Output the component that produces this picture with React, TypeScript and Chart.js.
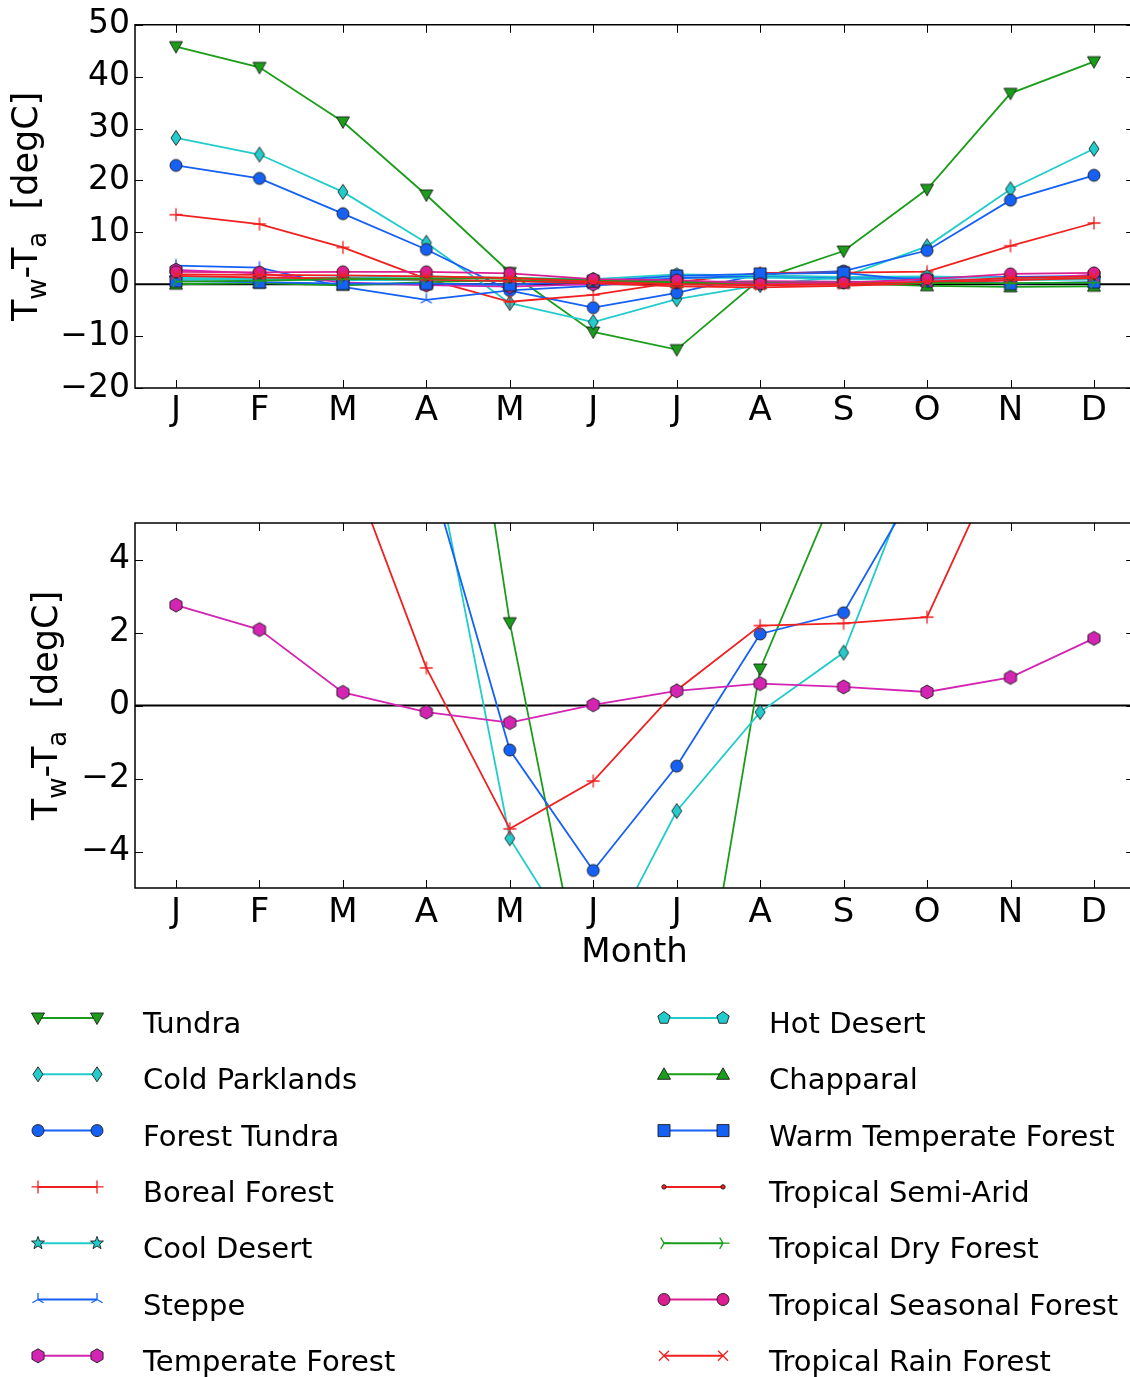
import React, { useEffect, useRef } from 'react';
import { Chart, registerables } from 'chart.js';

Chart.register(...registerables);

const MONTHS = ['J', 'F', 'M', 'A', 'M', 'J', 'J', 'A', 'S', 'O', 'N', 'D'];

const SERIES_NAMES = [
  'Tundra', 'Cold Parklands', 'Forest Tundra', 'Boreal Forest', 'Cool Desert', 'Steppe', 'Temperate Forest',
  'Hot Desert', 'Chapparal', 'Warm Temperate Forest', 'Tropical Semi-Arid', 'Tropical Dry Forest',
  'Tropical Seasonal Forest', 'Tropical Rain Forest',
];

const TUNDRA = [45.8, 41.8, 31.3, 17.2, 2.27, -9.2, -12.6, 1.0, 6.4, 18.3, 36.8, 42.9];
const COLD_PARKLANDS = [28.2, 25.0, 17.8, 8.0, -3.64, -7.3, -2.89, -0.18, 1.45, 7.3, 18.3, 26.1];
const FOREST_TUNDRA = [22.9, 20.4, 13.6, 6.7, -1.22, -4.52, -1.66, 1.96, 2.54, 6.5, 16.2, 21.0];
const BOREAL_FOREST = [13.4, 11.6, 7.1, 1.03, -3.38, -2.07, 0.42, 2.19, 2.25, 2.42, 7.4, 11.8];
const COOL_DESERT = [1.0, 0.9, 0.8, 0.8, 0.6, 0.5, 1.2, 1.3, 1.0, 0.9, 0.8, 0.9];
const STEPPE = [3.6, 3.2, -0.5, -3.0, -1.2, -0.3, 1.2, 1.6, 1.3, 1.2, 1.4, 1.6];
const TEMPERATE_FOREST = [2.75, 2.08, 0.36, -0.18, -0.47, 0.02, 0.4, 0.6, 0.51, 0.37, 0.77, 1.84];
const HOT_DESERT = [1.2, 1.1, 1.3, 1.5, 1.2, 1.0, 1.9, 1.7, 1.4, 1.5, 1.2, 1.2];
const CHAPPARAL = [0.0, 0.2, -0.2, 0.4, 0.8, 0.5, 0.3, 0.1, 0.2, -0.3, -0.5, -0.4];
const WARM_TEMPERATE_FOREST = [0.6, 0.4, 0.1, 0.1, -0.1, 0.6, 1.6, 2.0, 2.2, 0.6, 0.1, 0.4];
const TROPICAL_SEMI_ARID = [1.6, 1.3, 1.1, 0.9, 0.6, 0.2, -0.4, -0.6, -0.3, 0.2, 0.8, 1.2];
const TROPICAL_DRY_FOREST = [0.5, 0.7, 1.0, 1.1, 1.2, 0.8, 0.5, 0.3, 0.3, 0.2, 0.2, 0.3];
const TROPICAL_SEASONAL_FOREST = [2.4, 2.3, 2.4, 2.4, 2.1, 1.0, 0.8, 0.1, 0.3, 1.0, 2.0, 2.2];
const TROPICAL_RAIN_FOREST = [1.9, 1.8, 1.7, 1.5, 1.2, 0.5, 0.0, -0.2, 0.0, 0.5, 1.2, 1.5];

const SERIES_VALUES = [
  TUNDRA, COLD_PARKLANDS, FOREST_TUNDRA, BOREAL_FOREST, COOL_DESERT, STEPPE, TEMPERATE_FOREST,
  HOT_DESERT, CHAPPARAL, WARM_TEMPERATE_FOREST, TROPICAL_SEMI_ARID, TROPICAL_DRY_FOREST,
  TROPICAL_SEASONAL_FOREST, TROPICAL_RAIN_FOREST,
];

const SERIES_COLORS = [
  '#1a9e1a', '#22cccc', '#1560f5', '#f02020', '#22cccc', '#1560f5', '#d424b4',
  '#22cccc', '#1a9e1a', '#1560f5', '#f02020', '#1a9e1a', '#dc1e90', '#f02020',
];

const SERIES_MARKERS = ['v', 'd', 'o', '+', '*', '2', 'h', 'p', '^', 's', '.', '4', 'o', 'x'];

// indices of series shown in the zoomed (lower) panel
const ZOOM_SERIES = [0, 1, 2, 3, 6];

const TOP_Y_TICKS = [-20, -10, 0, 10, 20, 30, 40, 50];
const BOTTOM_Y_TICKS = [-4, -2, 0, 2, 4];

const FONT = '"DejaVu Sans", "Liberation Sans", sans-serif';

// pixel placement of month 0 and spacing between months
const X0_PX = 176;
const X_STEP_PX = 83.45;
const CANVAS_W = 1142;

function drawMarker(ctx: CanvasRenderingContext2D, kind: string, x: number, y: number, color: string) {
  ctx.save();
  ctx.translate(x, y);
  const edge = '#1c1c1c';
  const poly = (pts: number[][]) => {
    ctx.beginPath();
    pts.forEach(([px, py], i) => (i ? ctx.lineTo(px, py) : ctx.moveTo(px, py)));
    ctx.closePath();
    ctx.fillStyle = color;
    ctx.fill();
    ctx.lineWidth = 0.9;
    ctx.strokeStyle = edge;
    ctx.stroke();
  };
  const reg = (n: number, r: number) =>
    Array.from({ length: n }, (_, i) => {
      const a = (i * 2 * Math.PI) / n;
      return [r * Math.sin(a), -r * Math.cos(a)];
    });
  const circle = (r: number) => {
    ctx.beginPath();
    ctx.arc(0, 0, r, 0, Math.PI * 2);
    ctx.fillStyle = color;
    ctx.fill();
    ctx.lineWidth = 0.9;
    ctx.strokeStyle = edge;
    ctx.stroke();
  };
  const segs = (s: number[][]) => {
    ctx.beginPath();
    s.forEach(([x1, y1, x2, y2]) => {
      ctx.moveTo(x1, y1);
      ctx.lineTo(x2, y2);
    });
    ctx.lineWidth = 1.3;
    ctx.strokeStyle = color;
    ctx.stroke();
  };
  switch (kind) {
    case 'v':
      poly([[-6.5, -5], [6.5, -5], [0, 6.5]]);
      break;
    case '^':
      poly([[-6.5, 5], [6.5, 5], [0, -6.5]]);
      break;
    case 'd':
      poly([[0, -7.5], [5, 0], [0, 7.5], [-5, 0]]);
      break;
    case 'o':
      circle(6);
      break;
    case '.':
      circle(2.2);
      break;
    case 's':
      poly([[-6, -6], [6, -6], [6, 6], [-6, 6]]);
      break;
    case 'h':
      poly(reg(6, 7));
      break;
    case 'p':
      poly(reg(5, 6.5));
      break;
    case '*': {
      const pts: number[][] = [];
      for (let i = 0; i < 10; i++) {
        const a = (i * Math.PI) / 5;
        const r = i % 2 === 0 ? 6.8 : 2.8;
        pts.push([r * Math.sin(a), -r * Math.cos(a)]);
      }
      poly(pts);
      break;
    }
    case '+':
      segs([[-6.5, 0, 6.5, 0], [0, -6.5, 0, 6.5]]);
      break;
    case 'x':
      segs([[-5, -5, 5, 5], [-5, 5, 5, -5]]);
      break;
    case '2':
      segs([[0, 0, 0, -6.5], [0, 0, -5.6, 3.3], [0, 0, 5.6, 3.3]]);
      break;
    case '4':
      segs([[0, 0, 6.5, 0], [0, 0, -3.3, -5.6], [0, 0, -3.3, 5.6]]);
      break;
  }
  ctx.restore();
}

function makeMarkerCanvas(kind: string, color: string) {
  const c = document.createElement('canvas');
  c.width = 20;
  c.height = 20;
  const ctx = c.getContext('2d')!;
  drawMarker(ctx, kind, 10, 10, color);
  return c;
}

const minus = (v: number) => (v < 0 ? '\u2212' + Math.abs(v) : String(v));

const framePlugin = {
  id: 'frame',
  afterDatasetsDraw(chart: any) {
    const { ctx, chartArea: a, scales } = chart;
    ctx.save();
    ctx.strokeStyle = '#000';
    ctx.lineWidth = 1.5;
    ctx.beginPath();
    ctx.rect(a.left, a.top, a.right - a.left, a.bottom - a.top);
    ctx.stroke();
    ctx.lineWidth = 1;
    ctx.beginPath();
    const tl = 8;
    scales.x.ticks.forEach((t: any) => {
      const px = Math.round(scales.x.getPixelForValue(t.value)) + 0.5;
      ctx.moveTo(px, a.bottom);
      ctx.lineTo(px, a.bottom - tl);
      ctx.moveTo(px, a.top);
      ctx.lineTo(px, a.top + tl);
    });
    scales.y.ticks.forEach((t: any) => {
      const py = Math.round(scales.y.getPixelForValue(t.value)) + 0.5;
      ctx.moveTo(a.left, py);
      ctx.lineTo(a.left + tl, py);
      ctx.moveTo(a.right, py);
      ctx.lineTo(a.right - tl, py);
    });
    ctx.stroke();
    ctx.restore();
  },
};

const yTitlePlugin = {
  id: 'ytitle',
  afterDraw(chart: any, _args: any, opts: any) {
    const { ctx, chartArea: a } = chart;
    const big = `35px ${FONT}`;
    const small = `26px ${FONT}`;
    const parts: [string, string, number][] = [
      ['T', big, 0],
      ['w', small, 9],
      ['-T', big, 0],
      ['a', small, 9],
      ['  [degC]', big, 0],
    ];
    ctx.save();
    let total = 0;
    const widths = parts.map(([t, f]) => {
      ctx.font = f;
      const w = ctx.measureText(t).width;
      total += w;
      return w;
    });
    ctx.translate(opts.x, (a.top + a.bottom) / 2);
    ctx.rotate(-Math.PI / 2);
    ctx.fillStyle = '#000';
    ctx.textBaseline = 'alphabetic';
    ctx.textAlign = 'left';
    let cur = -total / 2;
    parts.forEach(([t, f, dy], i) => {
      ctx.font = f;
      ctx.fillText(t, cur, dy);
      cur += widths[i];
    });
    ctx.restore();
  },
};

function buildConfig(
  seriesIdx: number[],
  markers: HTMLCanvasElement[],
  yMin: number,
  yMax: number,
  yTicks: number[],
  padTop: number,
  xHeight: number,
  titleX: number,
  showMonth: boolean,
  tickPad: number
): any {
  const datasets: any[] = seriesIdx.map((i) => ({
    label: SERIES_NAMES[i],
    data: SERIES_VALUES[i].map((v, k) => ({ x: k, y: v })),
    borderColor: SERIES_COLORS[i],
    backgroundColor: SERIES_COLORS[i],
    borderWidth: 1.8,
    pointStyle: markers[i],
    pointRadius: 6,
    tension: 0,
    order: 100 - i,
  }));
  datasets.push({
    label: 'zero',
    data: [{ x: -1, y: 0 }, { x: 12, y: 0 }],
    borderColor: '#000',
    borderWidth: 2,
    pointRadius: 0,
    order: 200,
  });
  return {
    type: 'line',
    data: { datasets },
    options: {
      animation: false,
      responsive: false,
      devicePixelRatio: 1,
      layout: { padding: { top: padTop, left: 0, right: 0, bottom: 0 } },
      plugins: {
        legend: { display: false },
        tooltip: { enabled: false },
        ytitle: { x: titleX },
      },
      scales: {
        x: {
          type: 'linear',
          min: -0.49,
          max: 11.5,
          grid: { display: false, drawTicks: false },
          border: { display: false },
          afterBuildTicks: (s: any) => {
            s.ticks = MONTHS.map((_, k) => ({ value: k }));
          },
          afterFit: (s: any) => {
            s.height = xHeight;
            s.paddingLeft = 0;
            s.paddingRight = 0;
          },
          ticks: {
            autoSkip: false,
            maxRotation: 0,
            padding: tickPad,
            color: '#000',
            font: { family: FONT, size: 34 },
            callback: (v: number) => MONTHS[Math.round(v)] ?? '',
          },
          title: {
            display: showMonth,
            text: 'Month',
            color: '#000',
            font: { family: FONT, size: 34 },
            padding: { top: 0, bottom: 26 },
          },
        },
        y: {
          type: 'linear',
          min: yMin,
          max: yMax,
          grid: { display: false, drawTicks: false },
          border: { display: false },
          afterBuildTicks: (s: any) => {
            s.ticks = yTicks.map((v) => ({ value: v }));
          },
          afterFit: (s: any) => {
            s.width = 135;
          },
          ticks: {
            padding: 5,
            color: '#000',
            font: { family: FONT, size: 33 },
            callback: (v: number) => minus(v),
          },
        },
      },
    },
    plugins: [framePlugin, yTitlePlugin],
  };
}

// align month positions with the reference placement using the real chart area
function alignX(chart: any) {
  const a = chart.chartArea;
  chart.options.scales.x.min = (a.left - X0_PX) / X_STEP_PX;
  chart.options.scales.x.max = (a.right - X0_PX) / X_STEP_PX;
  chart.update();
}

function LegendCanvas() {
  const ref = useRef<HTMLCanvasElement>(null);
  useEffect(() => {
    const c = ref.current!;
    const ctx = c.getContext('2d')!;
    ctx.clearRect(0, 0, c.width, c.height);
    SERIES_NAMES.forEach((_, i) => {
      const col = i < 7 ? 0 : 1;
      const row = i % 7;
      const y = 28 + row * 56.3;
      const x1 = col === 0 ? 38 : 664;
      const x2 = x1 + 59;
      ctx.beginPath();
      ctx.moveTo(x1, y);
      ctx.lineTo(x2, y);
      ctx.strokeStyle = SERIES_COLORS[i];
      ctx.lineWidth = 2;
      ctx.stroke();
      drawMarker(ctx, SERIES_MARKERS[i], x1, y, SERIES_COLORS[i]);
      drawMarker(ctx, SERIES_MARKERS[i], x2, y, SERIES_COLORS[i]);
    });
  }, []);
  return (
    <canvas
      ref={ref}
      width={1130}
      height={387}
      style={{ position: 'absolute', left: 0, top: 990, width: 1130, height: 387 }}
    />
  );
}

export default function App() {
  const topRef = useRef<HTMLCanvasElement>(null);
  const botRef = useRef<HTMLCanvasElement>(null);

  useEffect(() => {
    const markers = SERIES_NAMES.map((_, i) => makeMarkerCanvas(SERIES_MARKERS[i], SERIES_COLORS[i]));
    const allIdx = SERIES_NAMES.map((_, i) => i);
    const top = new Chart(
      topRef.current!,
      buildConfig(allIdx, markers, -20, 50, TOP_Y_TICKS, 21, 450 - 388, 37, false, 3)
    );
    const bot = new Chart(
      botRef.current!,
      buildConfig(ZOOM_SERIES, markers, -5, 5, BOTTOM_Y_TICKS, 43, 520 - 408, 57, true, 5)
    );
    alignX(top);
    alignX(bot);
    return () => {
      top.destroy();
      bot.destroy();
    };
  }, []);

  return (
    <div
      style={{
        position: 'absolute',
        left: 0,
        top: 0,
        width: 1130,
        height: 1377,
        overflow: 'hidden',
        background: '#fff',
        fontFamily: FONT,
      }}
    >
      <canvas
        ref={topRef}
        width={CANVAS_W}
        height={450}
        style={{ position: 'absolute', left: 0, top: 0, width: CANVAS_W, height: 450 }}
      />
      <canvas
        ref={botRef}
        width={CANVAS_W}
        height={520}
        style={{ position: 'absolute', left: 0, top: 480, width: CANVAS_W, height: 520 }}
      />
      <LegendCanvas />
      {SERIES_NAMES.map((name, i) => {
        const col = i < 7 ? 0 : 1;
        const row = i % 7;
        const y = 1018 + row * 56.3;
        return (
          <span
            key={name}
            style={{
              position: 'absolute',
              left: col === 0 ? 143 : 769,
              top: y - 9,
              fontSize: 29,
              lineHeight: '29px',
              whiteSpace: 'nowrap',
              color: '#000',
              fontFamily: FONT,
            }}
          >
            {name}
          </span>
        );
      })}
    </div>
  );
}
